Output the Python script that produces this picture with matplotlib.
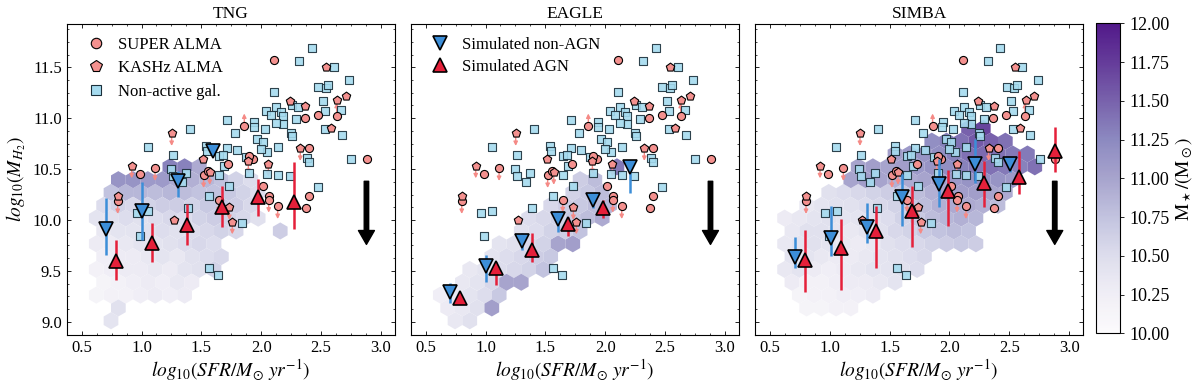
import numpy as np
import matplotlib.pyplot as plt
from matplotlib.lines import Line2D
from matplotlib.ticker import AutoMinorLocator, MultipleLocator, FormatStrFormatter

# ---------------- observed galaxies (same in all three panels) ----------------
# limit flag: 0 = detection, -1 = upper limit (arrow down), +1 = arrow up
super_sfr = [2.110, 2.882, 1.859, 2.472, 2.631, 2.364, 2.402, 1.929, 1.901,
             0.987, 1.113, 0.801, 1.726, 1.519, 1.553, 2.013, 2.068, 2.063,
             1.645, 2.138, 2.402, 2.375]
super_mh2 = [11.574, 10.603, 10.921, 11.033, 11.026, 11.000, 10.711, 10.597, 10.633,
             10.452, 10.508, 10.184, 10.551, 10.439, 10.485, 10.334, 10.239, 10.197,
             10.200, 10.134, 10.233, 10.115]
super_lim = [0, 0, 1, 0, 1, 0, 0, 0, 0,
             0, -1, -1, 0, -1, 0, 0, 0, -1,
             -1, -1, 0, 0]

kashz_sfr = [2.545, 2.241, 2.369, 2.636, 2.706, 1.252, 2.327, 0.918, 0.801,
             1.511, 2.060, 1.734, 1.272, 1.759, 1.893, 1.570, 2.586]
kashz_mh2 = [11.502, 11.170, 11.115, 11.180, 11.213, 10.852, 10.705, 10.534, 10.233,
             10.603, 10.551, 10.125, 10.003, 9.984, 10.577, 10.470, 10.908]
kashz_lim = [0, 0, 0, 0, 0, -1, -1, -1, 0,
             0, -1, -1, 0, -1, -1, -1, 0]

nonact_sfr = [2.425, 2.319, 2.606, 2.737, 2.478, 2.539, 2.561, 2.110, 2.255, 2.305,
              2.514, 2.664, 2.531, 2.040, 2.124, 2.166, 2.082, 2.180, 2.291, 2.180,
              2.124, 1.714, 1.943, 1.937, 2.029, 1.779, 2.249, 2.255, 1.405, 1.968,
              2.013, 2.675, 2.531, 1.052, 1.542, 1.545, 1.714, 1.798, 1.648, 1.678,
              1.260, 2.046, 2.380, 2.402, 1.873, 2.754, 1.247, 1.263, 1.692, 1.375,
              1.338, 1.648, 1.901, 2.052, 2.241, 2.472, 1.734, 1.391, 0.962, 1.057,
              1.843, 0.990, 1.564, 1.639, 1.560, 2.140, 2.140, 2.000]
nonact_mh2 = [11.692, 11.557, 11.498, 11.377, 11.302, 11.295, 11.328, 11.262, 11.131, 11.108,
              11.164, 11.082, 11.075, 11.075, 11.108, 11.059, 11.036, 11.026, 10.987, 10.938,
              10.957, 10.984, 10.961, 10.918, 10.892, 10.859, 10.859, 10.820, 10.892, 10.793,
              10.767, 10.833, 10.895, 10.715, 10.728, 10.675, 10.705, 10.689, 10.633, 10.643,
              10.636, 10.669, 10.610, 10.574, 10.623, 10.597, 10.502, 10.430, 10.534, 10.466,
              10.377, 10.446, 10.459, 10.452, 10.436, 10.328, 10.338, 10.115, 10.072, 10.089,
              9.970, 9.846, 9.531, 9.456, 10.240, 10.440, 10.720, 10.700]

# ---------------- simulated medians with 16-84 range ----------------
tng_non_sfr = [0.703, 1.001, 1.302, 1.600]
tng_non_mh2 = [9.91, 10.09, 10.38, 10.68]
tng_non_lo = [9.66, 9.80, 10.23, 10.64]
tng_non_hi = [10.22, 10.37, 10.48, 10.74]
tng_agn_sfr = [0.787, 1.085, 1.377, 1.675, 1.975, 2.276]
tng_agn_mh2 = [9.60, 9.77, 9.95, 10.13, 10.23, 10.18]
tng_agn_lo = [9.41, 9.59, 9.75, 9.93, 10.04, 9.91]
tng_agn_hi = [9.80, 9.97, 10.16, 10.33, 10.40, 10.57]

eagle_non_sfr = [0.703, 1.004, 1.308, 1.603, 1.901, 2.208]
eagle_non_mh2 = [9.289, 9.544, 9.797, 10.010, 10.197, 10.518]
eagle_non_lo = [9.180, 9.387, 9.705, 9.879, 10.118, 10.262]
eagle_non_hi = [9.377, 9.659, 9.872, 10.082, 10.239, 10.557]
eagle_agn_sfr = [0.787, 1.085, 1.386, 1.687, 1.985]
eagle_agn_mh2 = [9.230, 9.525, 9.705, 9.961, 10.115]
eagle_agn_lo = [9.190, 9.364, 9.584, 9.846, 10.020]
eagle_agn_hi = [9.272, 9.584, 9.872, 10.026, 10.200]

simba_non_sfr = [0.709, 1.007, 1.308, 1.606, 1.909, 2.213, 2.506]
simba_non_mh2 = [9.639, 9.823, 9.934, 10.223, 10.354, 10.551, 10.551]
simba_non_lo = [9.525, 9.649, 9.770, 9.944, 10.125, 10.361, 10.469]
simba_non_hi = [9.836, 10.141, 10.167, 10.452, 10.600, 10.797, 10.600]
simba_agn_sfr = [0.792, 1.090, 1.386, 1.684, 1.985, 2.286, 2.581, 2.884]
simba_agn_mh2 = [9.607, 9.725, 9.889, 10.092, 10.282, 10.364, 10.420, 10.675]
simba_agn_lo = [9.295, 9.311, 9.528, 9.738, 9.938, 10.125, 10.256, 10.469]
simba_agn_hi = [9.902, 10.010, 10.141, 10.338, 10.492, 10.584, 10.682, 10.911]

# ---------------- binned simulated galaxies: (log MH2 of row, log SFR of first bin, mean M* per bin) ----
HEX_DX = 0.123
tng_hex = [
    (9.010, 0.745, [10.40]),
    (9.136, 0.807, [10.45]),
    (9.262, 0.622, [10.15, 10.20, 10.20, 10.25, 10.30, 10.25, 10.30]),
    (9.388, 0.684, [10.15, 10.20, 10.25, 10.30, 10.25, 10.35, 10.30]),
    (9.514, 0.622, [10.20, 10.25, 10.30, 10.30, 10.35, 10.30, 10.40, 10.45, 10.60]),
    (9.640, 0.684, [10.25, 10.30, 10.30, 10.35, 10.40, 10.35, 10.45, 10.50, 10.55]),
    (9.766, 0.622, [10.30, 10.30, 10.35, 10.40, 10.40, 10.45, 10.50, 10.55, 10.50]),
    (9.892, 0.684, [10.35, 10.40, 10.40, 10.45, 10.50, 10.45, 10.50, 10.55, 10.60, 10.55]),
    (9.892, 2.160, [10.65]),
    (10.018, 0.622, [10.40, 10.45, 10.50, 10.45, 10.50, 10.55, 10.50, 10.60, 10.65, 10.60, 10.55, 10.45]),
    (10.144, 0.684, [10.50, 10.60, 10.55, 10.60, 10.65, 10.65, 10.60, 10.70, 10.70, 10.65, 10.55]),
    (10.270, 0.745, [10.75, 10.85, 10.85, 10.80, 10.85, 10.80, 10.75, 10.75, 10.70, 10.60, 10.50]),
    (10.396, 0.807, [11.15, 11.15, 11.10, 11.10, 10.95, 10.90, 10.85, 10.75, 10.60, 10.50]),
    (10.522, 1.237, [11.30, 11.30, 10.95]),
]
eagle_hex = [
    (9.010, 0.745, [10.35, 10.45]),
    (9.136, 0.684, [10.30, 10.35, 10.45, 11.05]),
    (9.262, 0.622, [10.25, 10.35, 10.40, 10.50, 10.70]),
    (9.388, 0.807, [10.35, 10.40, 10.55, 11.00, 11.00]),
    (9.514, 0.868, [10.35, 10.40, 10.50, 10.55, 10.60, 10.75]),
    (9.640, 1.053, [10.40, 10.50, 10.55, 10.65, 10.70]),
    (9.766, 1.114, [10.40, 10.45, 10.55, 10.60, 11.00, 11.05]),
    (9.892, 1.299, [10.45, 10.50, 10.60, 10.65, 10.75]),
    (10.018, 1.360, [10.50, 10.55, 10.60, 10.70, 10.80, 10.95]),
    (10.144, 1.545, [10.55, 10.65, 10.70, 10.80, 10.85]),
    (10.270, 1.729, [10.60, 10.70, 10.80]),
    (10.396, 1.791, [10.65, 10.80]),
    (10.522, 2.098, [11.35]),
]
simba_hex = [
    (9.136, 0.807, [10.15, 10.15, 10.20, 10.20]),
    (9.262, 0.745, [10.15, 10.20, 10.20, 10.25, 10.25, 10.30]),
    (9.388, 0.684, [10.30, 10.20, 10.20, 10.25, 10.30, 10.30, 10.35, 10.40]),
    (9.514, 0.622, [10.35, 10.40, 10.30, 10.25, 10.30, 10.35, 10.40, 10.40, 10.45, 10.50]),
    (9.640, 0.684, [10.40, 10.40, 10.35, 10.30, 10.30, 10.35, 10.40, 10.45, 10.50, 10.55]),
    (9.766, 0.622, [10.35, 10.40, 10.45, 10.40, 10.35, 10.30, 10.35, 10.45, 10.50, 10.55,
                    10.60, 10.65, 10.70, 10.65]),
    (9.892, 0.684, [10.35, 10.45, 10.45, 10.40, 10.35, 10.40, 10.45, 10.55, 10.60, 10.70,
                    10.75, 10.80, 10.75]),
    (10.018, 0.622, [10.30, 10.35, 10.40, 10.45, 10.40, 10.40, 10.45, 10.50, 10.60, 10.70,
                     10.80, 10.85, 10.90, 10.85]),
    (10.144, 0.807, [10.35, 10.40, 10.45, 10.45, 10.50, 10.55, 10.60, 10.70, 10.80, 10.90,
                     10.95, 10.95, 10.90, 10.80]),
    (10.270, 0.991, [10.45, 10.50, 10.55, 10.60, 10.65, 10.70, 10.80, 10.90, 11.00, 11.05,
                     11.05, 11.00, 10.95]),
    (10.396, 1.176, [11.00, 11.05, 11.00, 10.90, 10.95, 11.00, 11.05, 11.10, 11.15, 11.20,
                     11.15, 11.10]),
    (10.522, 1.237, [11.00, 11.05, 11.00, 11.05, 11.10, 11.15, 11.20, 11.30, 11.35, 11.40,
                     11.35, 11.30, 11.40]),
    (10.648, 1.545, [11.05, 11.10, 11.15, 11.20, 11.30, 11.40, 11.45, 11.40, 11.35, 11.35]),
    (10.774, 1.852, [11.20, 11.30, 11.40, 11.55, 11.50, 11.40]),
    (10.900, 2.160, [11.50, 11.70]),
]

arrow_sfr, arrow_top, arrow_tip = 2.88, 10.38, 9.76

C_OBS = '#f4918f'
C_LIM = '#f58a86'
C_SQ = '#a5dbef'
C_BLUE = '#3c8ed8'
C_RED = '#e5203a'

plt.rcParams.update({
    'font.family': 'serif',
    'font.serif': ['Liberation Serif', 'DejaVu Serif'],
    'mathtext.fontset': 'stix',
    'xtick.direction': 'in', 'ytick.direction': 'in',
    'xtick.top': True, 'ytick.right': True,
    'xtick.major.size': 3.0, 'ytick.major.size': 3.0,
    'xtick.minor.size': 1.6, 'ytick.minor.size': 1.6,
    'xtick.major.width': 0.6, 'ytick.major.width': 0.6,
    'xtick.minor.width': 0.5, 'ytick.minor.width': 0.5,
    'axes.linewidth': 0.8,
    'xtick.labelsize': 12, 'ytick.labelsize': 12,
})


def hex_cells(rows):
    xs, ys, cs = [], [], []
    for mh2, sfr0, mstar in rows:
        for k, m in enumerate(mstar):
            xs.append(sfr0 + k * HEX_DX)
            ys.append(mh2)
            cs.append(m)
    return np.array(xs), np.array(ys), np.array(cs)


def draw_obs(ax):
    ax.scatter(super_sfr, super_mh2, s=34, marker='o', c=C_OBS, edgecolors='k',
               linewidths=0.8, zorder=3, label='SUPER ALMA')
    ax.scatter(kashz_sfr, kashz_mh2, s=40, marker='p', c=C_OBS, edgecolors='k',
               linewidths=0.8, zorder=3, label='KASHz ALMA')
    ax.scatter(nonact_sfr, nonact_mh2, s=30, marker='s', c=C_SQ, edgecolors='#1b2f3a',
               linewidths=0.8, alpha=0.9, zorder=2.5, label='Non-active gal.')
    for xs, ys, lims in [(super_sfr, super_mh2, super_lim), (kashz_sfr, kashz_mh2, kashz_lim)]:
        for x, y, l in zip(xs, ys, lims):
            if l == 0:
                continue
            ax.annotate('', xy=(x, y + l * 0.125), xytext=(x, y + l * 0.04),
                        arrowprops=dict(arrowstyle='-|>', color=C_LIM, lw=1.0,
                                        mutation_scale=6, shrinkA=0, shrinkB=0),
                        zorder=2.4)


def draw_sim(ax, non, agn):
    for (sfr, mh2, lo, hi), col, mk in [(non, C_BLUE, 'v'), (agn, C_RED, '^')]:
        sfr, mh2, lo, hi = map(np.asarray, (sfr, mh2, lo, hi))
        ax.errorbar(sfr, mh2, yerr=[mh2 - lo, hi - mh2], fmt='none', ecolor=col,
                    elinewidth=1.8, capsize=0, zorder=4)
        ax.plot(sfr, mh2, ls='none', marker=mk, ms=10, mfc=col, mec='k', mew=1.2, zorder=5)


fig = plt.figure(figsize=(12, 3.86), dpi=100)
lefts = [0.0556, 0.3423, 0.6292]
panels = [
    ('TNG', tng_hex, (tng_non_sfr, tng_non_mh2, tng_non_lo, tng_non_hi),
     (tng_agn_sfr, tng_agn_mh2, tng_agn_lo, tng_agn_hi)),
    ('EAGLE', eagle_hex, (eagle_non_sfr, eagle_non_mh2, eagle_non_lo, eagle_non_hi),
     (eagle_agn_sfr, eagle_agn_mh2, eagle_agn_lo, eagle_agn_hi)),
    ('SIMBA', simba_hex, (simba_non_sfr, simba_non_mh2, simba_non_lo, simba_non_hi),
     (simba_agn_sfr, simba_agn_mh2, simba_agn_lo, simba_agn_hi)),
]

axes = []
for left, (name, hexrows, non, agn) in zip(lefts, panels):
    ax = fig.add_axes([left, 0.1321, 0.2733, 0.8057])
    hx, hy, hc = hex_cells(hexrows)
    hb = ax.hexbin(hx, hy, C=hc, gridsize=(22, 13),
                   extent=(0.499, 0.499 + 22 * HEX_DX, 8.758, 8.758 + 13 * 0.252),
                   reduce_C_function=np.mean, cmap='Purples', vmin=10, vmax=12,
                   alpha=0.9, linewidths=0, zorder=1)
    draw_obs(ax)
    draw_sim(ax, non, agn)
    ax.annotate('', xy=(arrow_sfr, arrow_tip), xytext=(arrow_sfr, arrow_top),
                arrowprops=dict(facecolor='k', edgecolor='k', width=3.2,
                                headwidth=11.5, headlength=10, shrink=0), zorder=6)
    ax.set_xlim(0.375, 3.116)
    ax.set_ylim(8.87, 11.925)
    ax.xaxis.set_major_locator(MultipleLocator(0.5))
    ax.yaxis.set_major_locator(MultipleLocator(0.5))
    ax.xaxis.set_minor_locator(AutoMinorLocator(4))
    ax.yaxis.set_minor_locator(AutoMinorLocator(4))
    ax.set_title(name, fontsize=12.5, pad=4)
    ax.set_xlabel(r'$log_{10}(SFR/M_{\odot}\ yr^{-1})$', fontsize=14, labelpad=1)
    if name != 'TNG':
        ax.tick_params(axis='y', labelleft=False)
    else:
        ax.set_ylabel(r'$log_{10}(M_{H_2})$', fontsize=14, labelpad=3)
    axes.append(ax)

h1 = [Line2D([], [], ls='none', marker='o', ms=7.5, mfc=C_OBS, mec='k', mew=0.8),
      Line2D([], [], ls='none', marker='p', ms=8.5, mfc=C_OBS, mec='k', mew=0.8),
      Line2D([], [], ls='none', marker='s', ms=6.5, mfc=C_SQ, mec='#1b2f3a', mew=0.8)]
axes[0].legend(h1, ['SUPER ALMA', 'KASHz ALMA', 'Non-active gal.'], loc='upper left',
               frameon=False, fontsize=12, handlelength=2.0, handletextpad=0.3,
               labelspacing=0.45, borderaxespad=0.4, borderpad=0.35)
h2 = [Line2D([], [], ls='none', marker='v', ms=10, mfc=C_BLUE, mec='k', mew=1.2),
      Line2D([], [], ls='none', marker='^', ms=10, mfc=C_RED, mec='k', mew=1.2)]
axes[1].legend(h2, ['Simulated non-AGN', 'Simulated AGN'], loc='upper left',
               frameon=False, fontsize=12, handlelength=2.0, handletextpad=0.3,
               labelspacing=0.4, borderaxespad=0.4, borderpad=0.35)

cax = fig.add_axes([0.9133, 0.1365, 0.02, 0.803])
cb = fig.colorbar(hb, cax=cax)
cb.set_ticks(np.arange(10, 12.01, 0.25))
cb.ax.yaxis.set_major_formatter(FormatStrFormatter('%.2f'))
cb.ax.tick_params(direction='out', length=3, labelsize=13, right=True, left=False)
cb.ax.minorticks_off()
cb.set_label(r'$\mathrm{M_\star/(M_\odot)}$', fontsize=14, labelpad=3)
cb.outline.set_linewidth(0.8)

fig.savefig('out.png', dpi=100)
